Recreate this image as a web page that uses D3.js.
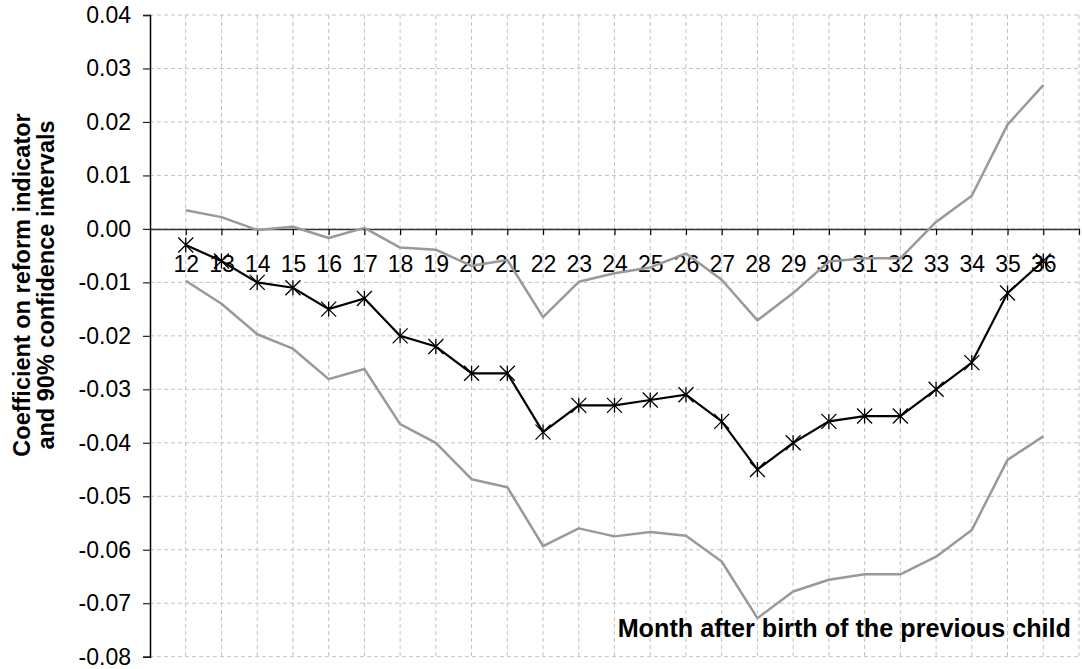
<!DOCTYPE html>
<html>
<head>
<meta charset="utf-8">
<script src="https://cdn.jsdelivr.net/npm/d3@7"></script>
<style>
  body { margin: 0; background: #fff; }
  svg { display: block; font-family: "Liberation Sans", Arial, sans-serif; }
  .axis text { font-size: 23px; fill: #000; }
  .title { font-weight: bold; fill: #000; }
</style>
</head>
<body>
<svg id="chart" width="1082" height="669"></svg>
<script>
// month after birth of the previous child
var months = [12, 13, 14, 15, 16, 17, 18, 19, 20, 21, 22, 23, 24, 25, 26, 27, 28, 29, 30, 31, 32, 33, 34, 35, 36];

// coefficient on reform indicator
var coef = [-0.003, -0.006, -0.010, -0.011, -0.015, -0.013, -0.020, -0.022, -0.027, -0.027,
            -0.038, -0.033, -0.033, -0.032, -0.031, -0.036, -0.045, -0.040, -0.036, -0.035,
            -0.035, -0.030, -0.025, -0.012, -0.006];

// 90% confidence interval, upper and lower bound
var upper = [0.0035, 0.0022, -0.0002, 0.0004, -0.0017, 0.0002, -0.0035, -0.0039, -0.0069, -0.0058,
             -0.0165, -0.0099, -0.0083, -0.0072, -0.0046, -0.0095, -0.0171, -0.0120, -0.0061, -0.0055,
             -0.0055, 0.0013, 0.0062, 0.0195, 0.0269];
var lower = [-0.0097, -0.0140, -0.0197, -0.0224, -0.0281, -0.0262, -0.0365, -0.0400, -0.0468, -0.0483,
             -0.0593, -0.0560, -0.0575, -0.0567, -0.0574, -0.0622, -0.0728, -0.0678, -0.0656, -0.0646,
             -0.0646, -0.0613, -0.0563, -0.0432, -0.0388];

var yTicks = [-0.08, -0.07, -0.06, -0.05, -0.04, -0.03, -0.02, -0.01, 0, 0.01, 0.02, 0.03, 0.04];
var xTicks = months.concat([37]);

var svg = d3.select("#chart");

var x = d3.scaleLinear().domain([11, 37]).range([150, 1079]);
var y = d3.scaleLinear().domain([-0.08, 0.04]).range([656.7, 15]);

// GRID

var grid = svg.append("g")
    .attr("stroke", "#c3c3c3")
    .attr("stroke-width", 1)
    .attr("stroke-dasharray", "4,3");

grid.selectAll("line.h")
    .data(yTicks)
  .enter().append("line")
    .attr("class", "h")
    .attr("x1", x(11)).attr("x2", x(37))
    .attr("y1", function (d) { return y(d); })
    .attr("y2", function (d) { return y(d); });

grid.selectAll("line.v")
    .data(xTicks)
  .enter().append("line")
    .attr("class", "v")
    .attr("y1", y(0.04)).attr("y2", y(-0.08))
    .attr("x1", function (d) { return x(d); })
    .attr("x2", function (d) { return x(d); });

// AXES

var yAxis = svg.append("g")
    .attr("class", "axis y-axis")
    .attr("transform", "translate(" + x(11) + ",0)")
    .call(d3.axisLeft(y)
        .tickValues(yTicks)
        .tickSize(7)
        .tickPadding(12)
        .tickFormat(function (d) { return (Math.abs(d) < 1e-9 ? 0 : d).toFixed(2); }));
yAxis.select(".domain").attr("stroke", "#000").attr("stroke-width", 1.5);
yAxis.selectAll(".tick line").attr("stroke", "#222").attr("stroke-width", 1.2);

var xAxis = svg.append("g")
    .attr("class", "axis x-axis")
    .attr("transform", "translate(0," + y(0) + ")")
    .call(d3.axisBottom(x)
        .tickValues(xTicks)
        .tickSize(6)
        .tickSizeOuter(0)
        .tickPadding(21)
        .tickFormat(function (d) { return d === 37 ? "" : d; }));
xAxis.select(".domain").attr("stroke", "#333").attr("stroke-width", 1.5);
xAxis.selectAll(".tick line").attr("stroke", "#000").attr("stroke-width", 1.2);

// TITLES

var yTitle = ["Coefficient on reform indicator", "and 90% confidence intervals"];
svg.selectAll("text.ytitle")
    .data(yTitle)
  .enter().append("text")
    .attr("class", "title ytitle")
    .style("font-size", "23.5px")
    .attr("text-anchor", "middle")
    .attr("transform", function (d, i) { return "translate(" + (30 + i * 24) + ",285) rotate(-90)"; })
    .text(function (d) { return d; });

svg.append("text")
    .attr("class", "title")
    .style("font-size", "25.2px")
    .attr("text-anchor", "end")
    .attr("x", 1071)
    .attr("y", 637)
    .text("Month after birth of the previous child");

// SERIES

var line = d3.line()
    .x(function (d, i) { return x(months[i]); })
    .y(function (d) { return y(d); });

[upper, lower].forEach(function (s) {
  svg.append("path")
    .datum(s)
    .attr("fill", "none")
    .attr("stroke", "#999")
    .attr("stroke-width", 2.5)
    .attr("stroke-linejoin", "round")
    .attr("d", line);
});

svg.append("path")
    .datum(coef)
    .attr("fill", "none")
    .attr("stroke", "#000")
    .attr("stroke-width", 2.2)
    .attr("d", line);

svg.selectAll("path.marker")
    .data(coef)
  .enter().append("path")
    .attr("class", "marker")
    .attr("transform", function (d, i) { return "translate(" + x(months[i]) + "," + y(d) + ")"; })
    .attr("d", "M-7.5,-7.5L7.5,7.5M-7.5,7.5L7.5,-7.5M0,-7.5L0,7.5")
    .attr("fill", "none")
    .attr("stroke", "#000")
    .attr("stroke-width", 1.3);
</script>
</body>
</html>
